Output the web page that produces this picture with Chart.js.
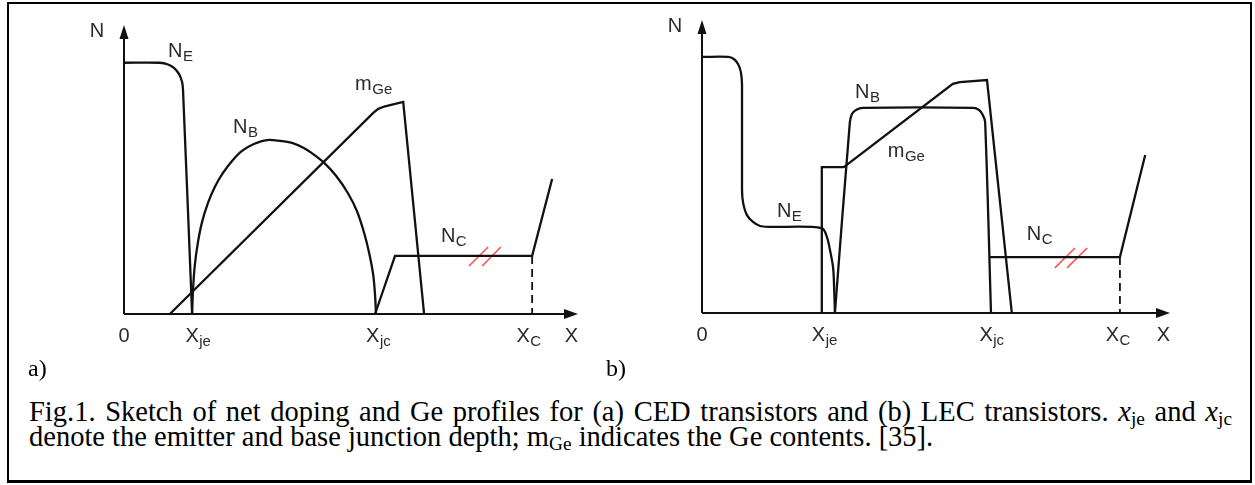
<!DOCTYPE html>
<html>
<head>
<meta charset="utf-8">
<script src="https://cdn.jsdelivr.net/npm/chart.js@4.4.1/dist/chart.umd.min.js"></script>
<style>
  body{margin:0;width:1255px;height:485px;background:#fff;position:relative;overflow:hidden}
  canvas{position:absolute;top:0}
  #chartA{left:0}
  #chartB{left:620px}
  #frame{position:absolute;left:7px;top:2px;width:1241px;height:476px;border:2px solid #000;border-bottom-width:3px;pointer-events:none}
  .tag{position:absolute;font-family:"Liberation Serif","Times New Roman",serif;font-size:24px;line-height:24px;color:#000}
  #caption{position:absolute;left:29px;top:399px;font-family:"Liberation Serif","Times New Roman",serif;font-size:28.5px;line-height:25px;white-space:nowrap;color:#000}
  #caption .l1{width:1203px;text-align:justify;text-align-last:justify}
  #caption sub{font-size:0.68em;vertical-align:-0.2em;line-height:0}
</style>
</head>
<body>
<canvas id="chartA" width="620" height="365"></canvas>
<canvas id="chartB" width="635" height="365"></canvas>
<div class="tag" style="left:28px;top:356px">a)</div>
<div class="tag" style="left:606px;top:356px">b)</div>
<div id="caption"><div class="l1">Fig.1. Sketch of net doping and Ge profiles for (a) CED transistors and (b) LEC transistors. <i>x</i><sub>je</sub> and <i>x</i><sub>jc</sub></div><div>denote the emitter and base junction depth; m<sub>Ge</sub> indicates the Ge contents. [35].</div></div>
<div id="frame"></div>
<script>
// --- a) CED: Profile (x = Tiefe, y = N, willkürliche Einheiten) ---
const a_NE  = [[0,87.8],[7.9,87.8],[9.7,87.2],[11.0,86.0],[12.1,83.9],[12.8,81.1],[13.0,78.3],[15.0,0]];
const a_NB  = [[15.0,0],[15.2,8.4],[15.6,17.1],[16.3,25.2],[17.2,32.2],[18.5,38.8],[20.0,44.4],[21.8,49.3],
               [23.8,53.5],[26.0,57.0],[28.6,59.4],[31.5,60.8],[34.4,60.5],[37.0,59.8],[39.6,58.0],[41.9,55.6],
               [44.1,52.8],[46.7,48.3],[49.3,42.3],[51.3,36.0],[52.9,28.3],[54.0,21.3],[54.9,13.6],[55.3,6.6],[55.5,0]];
const a_mGe = [[10.1,0],[54.9,70.3],[56.0,71.7],[57.5,72.6],[61.5,74.1],[66.1,0]];
const a_NC  = [[55.3,0],[59.7,20.3],[89.9,20.3],[94.3,47.2]];
const a_xC  = [[89.9,20.3],[89.9,0]];
const a_cut1 = [[76.0,16.8],[80.2,23.4]];
const a_cut2 = [[78.9,16.8],[83.0,23.4]];
const a_ticks = [0, 15.0, 54.8, 87.9];
const a_tickLabels = [["0",""],["X","je"],["X","jc"],["X","C"]];
const a_curveLabels = [["N","E",9.7,89.9],["N","B",24.0,63.3],["m","Ge",50.9,78.3],["N","C",69.8,25.2]];

// --- b) LEC ---
const b_NE  = [[0,87.4],[5.6,87.4],[6.8,86.7],[7.7,85.0],[8.3,82.3],[8.55,77.8],[8.55,42.0],[8.8,37.5],
               [9.6,33.4],[10.9,31.1],[12.4,29.7],[14.5,29.4],[25.6,29.0],[26.7,25.9],[27.35,21.5],[28.0,15.7],[28.2,10.2],[28.4,0]];
const b_NB  = [[28.4,0],[31.6,65.2],[32.05,67.9],[32.9,69.3],[34.4,70.0],[57.9,70.0],[59.2,69.3],[60.0,67.6],[60.5,65.2],[61.75,0]];
const b_mGe = [[25.6,0],[25.6,49.8],[30.3,49.8],[53.6,78.2],[55.1,78.8],[60.9,79.5],[66.2,0]];
const b_NC  = [[61.3,19.1],[89.3,19.1],[94.7,53.9]];
const b_xC  = [[89.3,19.1],[89.3,0]];
const b_cut1 = [[75.4,15.4],[79.7,22.2]];
const b_cut2 = [[78.0,15.4],[82.3,22.2]];
const b_ticks = [0, 24.9, 60.7, 87.7];
const b_tickLabels = [["0",""],["X","je"],["X","jc"],["X","C"]];
const b_curveLabels = [["N","B",32.7,73.4],["m","Ge",39.7,53.2],["N","E",16.0,32.8],["N","C",69.4,24.9]];

const INK = "#111";
const TXT = "#2a2a2a";
const SANS = '"Liberation Sans", Arial, sans-serif';

function pts(arr){ return arr.map(p => ({x:p[0], y:p[1]})); }

// Text mit Index (N_E, X_je ...)
function subText(ctx, main, sub, x, y, center){
  ctx.font = "20px " + SANS;
  const wm = ctx.measureText(main).width;
  let left = center ? x - wm/2 : x;
  ctx.fillText(main, left, y);
  if(sub){
    ctx.font = "15px " + SANS;
    ctx.fillText(sub, left + wm + 0.5, y + 4);
  }
}

const sketchAxes = {
  id: "sketchAxes",
  beforeDatasetsDraw(chart){
    const {ctx, scales:{x, y}} = chart;
    const x0 = x.getPixelForValue(0), y0 = y.getPixelForValue(0);
    const top = y.getPixelForValue(y.max), right = x.getPixelForValue(x.max);
    ctx.save();
    ctx.strokeStyle = INK; ctx.fillStyle = INK; ctx.lineWidth = 2;
    ctx.beginPath();
    ctx.moveTo(x0, y0); ctx.lineTo(x0, top + 10);
    ctx.moveTo(x0, y0); ctx.lineTo(right - 10, y0);
    ctx.stroke();
    ctx.beginPath();
    ctx.moveTo(x0, top); ctx.lineTo(x0 - 4.5, top + 14); ctx.lineTo(x0 + 4.5, top + 14); ctx.closePath(); ctx.fill();
    ctx.beginPath();
    ctx.moveTo(right, y0); ctx.lineTo(right - 14, y0 - 5); ctx.lineTo(right - 14, y0 + 5); ctx.closePath(); ctx.fill();
    ctx.restore();
  },
  afterDatasetsDraw(chart, args, opts){
    const {ctx, scales:{x, y}} = chart;
    const x0 = x.getPixelForValue(0), y0 = y.getPixelForValue(0);
    const top = y.getPixelForValue(y.max), right = x.getPixelForValue(x.max);
    ctx.save();
    ctx.fillStyle = TXT;
    ctx.textBaseline = "alphabetic";
    // Achsentitel
    subText(ctx, "N", "", x0 - 27, top + 12, true);
    ctx.font = "20px " + SANS;
    ctx.fillText("X", right - ctx.measureText("X").width, y0 + 28);
    // Tick-Beschriftung
    opts.ticks.forEach((t, i) => {
      const [m, s] = opts.tickLabels[i];
      subText(ctx, m, s, x.getPixelForValue(t), y0 + 28, true);
    });
    // Kurvennamen
    opts.curveLabels.forEach(([m, s, vx, vy]) => {
      subText(ctx, m, s, x.getPixelForValue(vx), y.getPixelForValue(vy), false);
    });
    ctx.restore();
  }
};

function line(data, extra){
  return Object.assign({data: pts(data), showLine:true, borderColor:INK, borderWidth:2.3,
    pointRadius:0, tension:0, fill:false, clip:false}, extra || {});
}

function makeChart(id, sets, yMax, pad, labelOpts){
  return new Chart(document.getElementById(id), {
    type: "scatter",
    data: {
      datasets: [
        line(sets.NE, {tension:0.3}),
        line(sets.NB, {tension:0.3}),
        line(sets.mGe),
        line(sets.NC),
        line(sets.xC, {borderWidth:1.8, borderDash:[8,5]}),
        line(sets.cut1, {borderColor:"#ff4c4c", borderWidth:1.5}),
        line(sets.cut2, {borderColor:"#ff4c4c", borderWidth:1.5})
      ]
    },
    options: {
      responsive:false, animation:false, devicePixelRatio:1,
      layout:{padding:pad},
      scales:{
        x:{type:"linear", min:0, max:100, display:false},
        y:{type:"linear", min:0, max:yMax, display:false}
      },
      plugins:{legend:{display:false}, tooltip:{enabled:false}, sketchAxes:labelOpts}
    },
    plugins:[sketchAxes]
  });
}

makeChart("chartA",
  {NE:a_NE, NB:a_NB, mGe:a_mGe, NC:a_NC, xC:a_xC, cut1:a_cut1, cut2:a_cut2},
  101, {left:124, right:42, top:25, bottom:51},
  {ticks:a_ticks, tickLabels:a_tickLabels, curveLabels:a_curveLabels});

makeChart("chartB",
  {NE:b_NE, NB:b_NB, mGe:b_mGe, NC:b_NC, xC:b_xC, cut1:b_cut1, cut2:b_cut2},
  100, {left:82, right:85, top:20, bottom:52},
  {ticks:b_ticks, tickLabels:b_tickLabels, curveLabels:b_curveLabels});
</script>
</body>
</html>
